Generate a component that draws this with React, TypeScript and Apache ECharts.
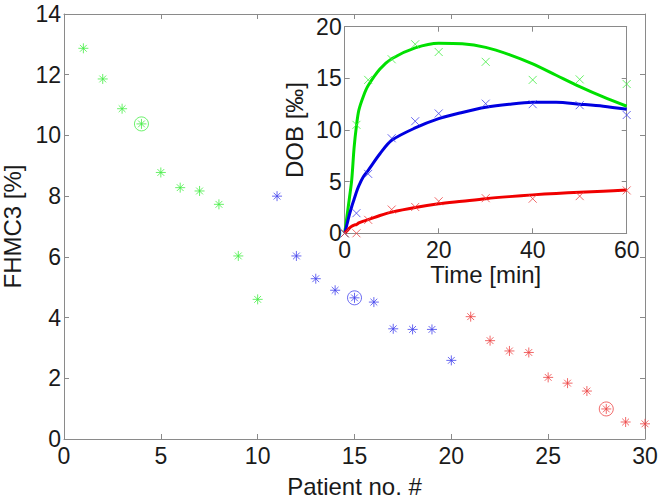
import React, { useEffect, useRef } from "react";
import * as echarts from "echarts";

// Main chart data
const patients = Array.from({ length: 30 }, (_, i) => i + 1);
const fhmcGreen = [12.87, 11.86, 10.88, 10.38, 8.78, 8.28, 8.17, 7.73, 6.03, 4.6];
const fhmcBlue = [8.0, 6.03, 5.28, 4.9, 4.65, 4.51, 3.63, 3.61, 3.61, 2.59];
const fhmcRed = [4.03, 3.24, 2.9, 2.85, 2.03, 1.84, 1.58, 0.99, 0.56, 0.5];
const circledPatients = [4, 15, 28];

// Inset data
const sampleTimes = [0, 2.5, 5, 10, 15, 20, 30, 40, 50, 60];
const dobGreen = [0, 10.5, 14.85, 16.85, 18.3, 17.55, 16.6, 14.85, 14.9, 14.45];
const dobBlue = [0, 1.95, 5.75, 9.2, 10.85, 11.6, 12.55, 12.5, 12.4, 11.45];
const dobRed = [0, 0, 1.3, 2.3, 2.55, 3.1, 3.4, 3.35, 3.6, 4.15];

const fitTimes = [0, 0.5, 1, 1.5, 2, 2.5, 3, 4, 5, 7.5, 10, 15, 20, 25, 30, 35, 40, 45, 50, 55, 60];
const fitGreen = [0, 1.7, 3.4, 5.2, 8.3, 10.4, 11.9, 13.3, 14.3, 15.9, 16.9, 17.95, 18.4, 18.35, 18.0, 17.3, 16.4, 15.3, 14.2, 13.2, 12.3];
const fitBlue = [0, 0.9, 1.8, 2.6, 3.3, 4.0, 4.6, 5.5, 6.1, 7.7, 9.0, 10.2, 11.1, 11.7, 12.2, 12.5, 12.68, 12.68, 12.5, 12.3, 12.0];
const fitRed = [0, 0.25, 0.5, 0.68, 0.8, 0.85, 1.0, 1.18, 1.32, 1.72, 2.05, 2.5, 2.85, 3.1, 3.35, 3.55, 3.72, 3.86, 3.98, 4.08, 4.18];

const GREEN = "#00e000";
const BLUE = "#0000e0";
const RED = "#f00000";
const GREEN_M = "#44ee44";
const BLUE_M = "#4444ee";
const RED_M = "#ee4444";

const ASTERISK = "path://M5,0L5,10M0,5L10,5M1.6,1.6L8.4,8.4M1.6,8.4L8.4,1.6";
const CROSS = "path://M0,0L10,10M0,10L10,0";

const FONT = "Liberation Sans";
const AX = "#8a8a8a";

function mkAxis(opts: any) {
  return {
    axisLine: { show: true, onZero: false, lineStyle: { color: AX, width: 1 } },
    axisTick: { show: true, inside: true, length: 5, lineStyle: { color: AX } },
    splitLine: { show: false },
    axisLabel: { show: false },
    ...opts,
  };
}

const labelStyle = { color: "#1a1a1a", fontFamily: FONT, fontSize: 23 };
const nameStyle = { color: "#1a1a1a", fontFamily: FONT, fontSize: 24 };

export default function App() {
  const ref = useRef<HTMLDivElement>(null);
  useEffect(() => {
    if (!ref.current) return;
    const chart = echarts.init(ref.current, undefined, { renderer: "svg" });
    const pt = (xs: number[], ys: number[]) => xs.map((x, i) => [x, ys[i]]);
    const allMain = [...fhmcGreen, ...fhmcBlue, ...fhmcRed];
    const circColors: Record<number, string> = { 4: GREEN_M, 15: BLUE_M, 28: RED_M };

    const option: any = {
      animation: false,
      backgroundColor: "#fff",
      grid: [
        { left: 64, top: 14, width: 581, height: 425, containLabel: false, outerBoundsMode: "none" },
        {
          left: 344.7, top: 26.7, width: 282, height: 206.6, containLabel: false, outerBoundsMode: "none",
          show: true, backgroundColor: "#fff", borderWidth: 0, z: 5,
        },
      ],
      xAxis: [
        mkAxis({
          type: "value", gridIndex: 0, min: 0, max: 30, interval: 5, position: "bottom",
          axisLabel: { show: true, margin: 5, ...labelStyle },
          name: "Patient no. #", nameLocation: "middle", nameGap: 35, nameTextStyle: nameStyle,
        }),
        mkAxis({ type: "value", gridIndex: 0, min: 0, max: 30, interval: 5, position: "top" }),
        mkAxis({
          type: "value", gridIndex: 1, min: 0, max: 60, interval: 20, position: "bottom", z: 6,
          axisLabel: { show: true, margin: 5, ...labelStyle },
          name: "Time [min]", nameLocation: "middle", nameGap: 27, nameTextStyle: nameStyle,
        }),
        mkAxis({ type: "value", gridIndex: 1, min: 0, max: 60, interval: 20, position: "top", z: 6 }),
      ],
      yAxis: [
        mkAxis({
          type: "value", gridIndex: 0, min: 0, max: 14, interval: 2, position: "left",
          axisLabel: { show: true, margin: 3, ...labelStyle },
          name: "FHMC3 [%]", nameLocation: "middle", nameGap: 38, nameRotate: 90, nameTextStyle: nameStyle,
        }),
        mkAxis({ type: "value", gridIndex: 0, min: 0, max: 14, interval: 2, position: "right" }),
        mkAxis({
          type: "value", gridIndex: 1, min: 0, max: 20, interval: 5, position: "left", z: 6,
          axisLabel: { show: true, margin: 3, ...labelStyle },
          name: "DOB [‰]", nameLocation: "middle", nameGap: 38, nameRotate: 90, nameTextStyle: nameStyle,
        }),
        mkAxis({ type: "value", gridIndex: 1, min: 0, max: 20, interval: 5, position: "right", z: 6 }),
      ],
      series: [
        ...[
          [patients.slice(0, 10), fhmcGreen, GREEN_M],
          [patients.slice(10, 20), fhmcBlue, BLUE_M],
          [patients.slice(20, 30), fhmcRed, RED_M],
        ].map(([xs, ys, c]: any) => ({
          type: "scatter", xAxisIndex: 0, yAxisIndex: 0, clip: false,
          symbol: ASTERISK, symbolSize: 10,
          itemStyle: { color: "none", borderColor: c, borderWidth: 1 },
          data: pt(xs, ys),
        })),
        ...circledPatients.map((p) => ({
          type: "scatter", xAxisIndex: 0, yAxisIndex: 0, clip: false,
          symbol: "circle", symbolSize: 14,
          itemStyle: { color: "none", borderColor: circColors[p], borderWidth: 1 },
          data: [[p, allMain[p - 1]]],
        })),
        ...[
          [fitGreen, GREEN],
          [fitBlue, BLUE],
          [fitRed, RED],
        ].map(([ys, c]: any) => ({
          type: "line", xAxisIndex: 2, yAxisIndex: 2, z: 7, smooth: 0.3, showSymbol: false,
          lineStyle: { color: c, width: 3 },
          data: pt(fitTimes, ys),
        })),
        ...[
          [dobGreen, GREEN_M],
          [dobBlue, BLUE_M],
          [dobRed, RED_M],
        ].map(([ys, c]: any) => ({
          type: "scatter", xAxisIndex: 2, yAxisIndex: 2, z: 8, clip: false,
          symbol: CROSS, symbolSize: 8,
          itemStyle: { color: "none", borderColor: c, borderWidth: 1 },
          data: pt(sampleTimes, ys),
        })),
      ],
    };
    chart.setOption(option);
    return () => chart.dispose();
  }, []);
  return (
    <div
      ref={ref}
      style={{ position: "fixed", left: 0, top: 0, width: 664, height: 503, background: "#fff" }}
    />
  );
}
